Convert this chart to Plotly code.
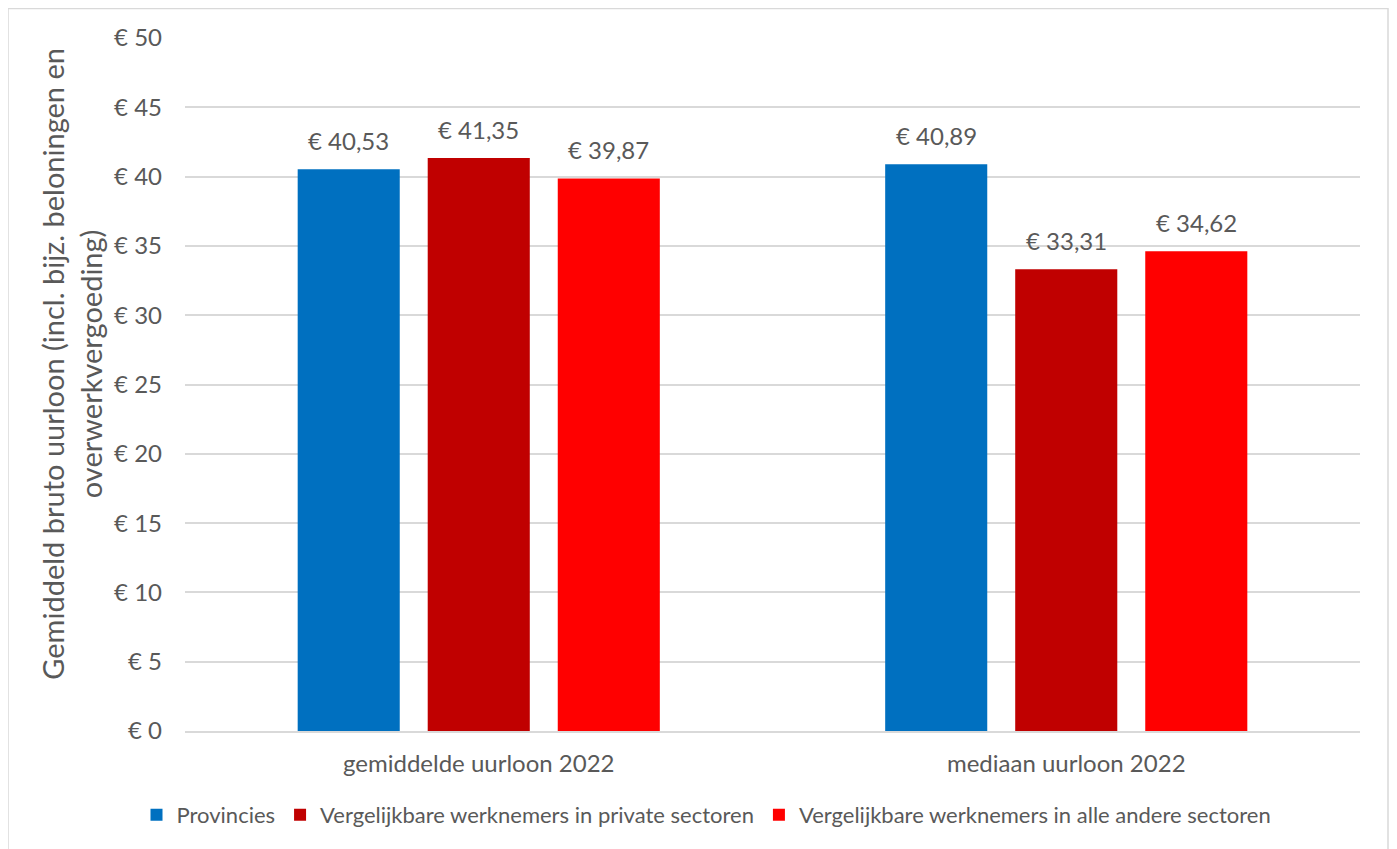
import plotly.graph_objects as go

categories = ["gemiddelde uurloon 2022", "mediaan uurloon 2022"]
series_names = ["Provincies",
                "Vergelijkbare werknemers in private sectoren",
                "Vergelijkbare werknemers in alle andere sectoren"]
provincies = [40.53, 40.89]
private = [41.35, 33.31]
andere = [39.87, 34.62]
colors = ["#0070C0", "#C00000", "#FF0000"]
y_ticks = [0, 5, 10, 15, 20, 25, 30, 35, 40, 45, 50]
y_title = "Gemiddeld bruto uurloon (incl. bijz. beloningen en<br>overwerkvergoeding)"

FONT = "Lato"
GREY = "#595959"
W, H = 1397, 849
ML, MR, MT, MB = 177, 45, 30, 126
PW, PH = W - ML - MR, H - MT - MB

def fmt(v):
    return "€ " + f"{v:.2f}".replace(".", ",")

fig = go.Figure()
all_series = [provincies, private, andere]
for name, vals, col in zip(series_names, all_series, colors):
    fig.add_trace(go.Bar(
        x=categories, y=vals, name=name, marker_color=col,
        marker_line_width=0,
    ))

annotations = []
offsets = [-130, 0, 130]
for vals, off in zip(all_series, offsets):
    for cat, v in zip(categories, vals):
        annotations.append(dict(x=cat, y=v, xref="x", yref="y", text=fmt(v),
                                showarrow=False, xanchor="center", yanchor="bottom",
                                xshift=off, yshift=12,
                                font=dict(family=FONT, size=24, color=GREY)))

annotations.append(dict(text=y_title, textangle=-90, xref="paper", yref="paper",
                        x=(64 - ML) / PW, y=0.53, xanchor="center", yanchor="middle",
                        showarrow=False, font=dict(family=FONT, size=29, color=GREY)))

fig.update_layout(
    width=W, height=H,
    margin=dict(l=ML, r=MR, t=MT, b=MB, autoexpand=False),
    paper_bgcolor="white", plot_bgcolor="white",
    barmode="group", bargap=0.336, bargroupgap=0.215,
    font=dict(family=FONT, size=24, color=GREY),
    showlegend=True,
    legend=dict(orientation="h", xref="container", x=0.5, xanchor="center",
                yref="container", y=0.0495, yanchor="middle",
                font=dict(family=FONT, size=22, color=GREY),
                itemwidth=30, traceorder="normal"),
    xaxis=dict(showline=True, linecolor="#D9D9D9", linewidth=1.5,
               ticks="", ticklabelstandoff=10,
               tickfont=dict(size=24, color=GREY)),
    yaxis=dict(range=[0, 50], tickvals=y_ticks,
               ticktext=["€ " + str(t) for t in y_ticks],
               showgrid=True, gridcolor="#D9D9D9", gridwidth=1.5,
               zeroline=False, showline=False, ticks="",
               ticklabelstandoff=22,
               tickfont=dict(size=24, color=GREY)),
    annotations=annotations,
    shapes=[dict(type="rect", xref="paper", yref="paper",
                 x0=(0 - ML) / PW, x1=(1380 - ML) / PW,
                 y0=(PH + MT - 860) / PH, y1=(PH + MT - 0.5) / PH,
                 line=dict(color="#D9D9D9", width=1.5), fillcolor="rgba(0,0,0,0)",
                 layer="below")],
)

fig.write_html("out.html")
